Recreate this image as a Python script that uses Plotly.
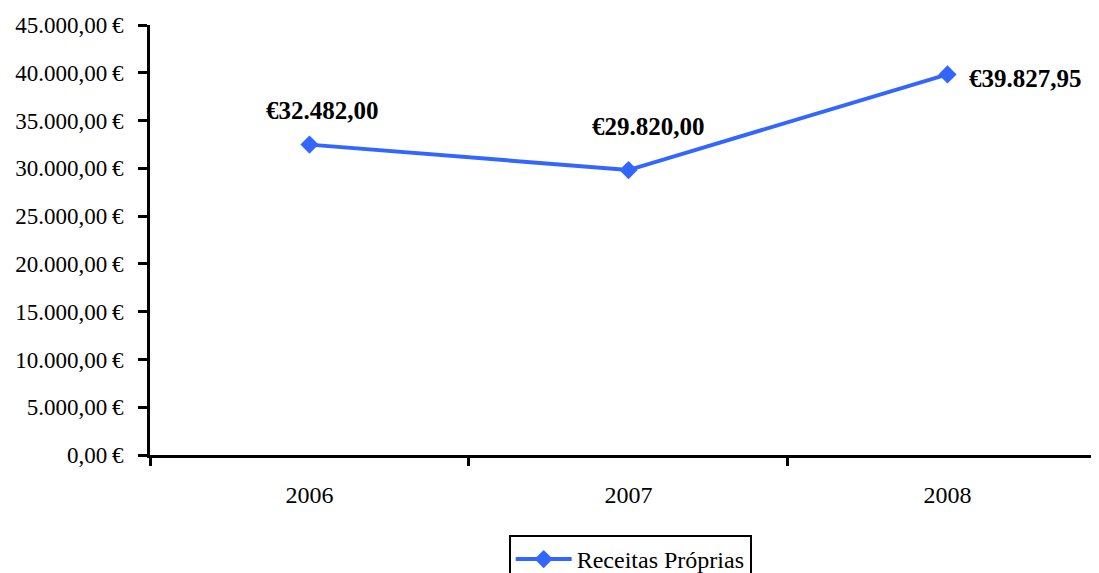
import plotly.graph_objects as go

years = ["2006", "2007", "2008"]
receitas = [32482.00, 29820.00, 39827.95]
labels = ["€32.482,00", "€29.820,00", "€39.827,95"]
y_ticks = [0, 5000, 10000, 15000, 20000, 25000, 30000, 35000, 40000, 45000]


def fmt_eur(v):
    s = f"{v:,.2f}".replace(",", "X").replace(".", ",").replace("X", ".")
    return s + "\u2009€"


y_ticktext = [fmt_eur(v) for v in y_ticks]

font_family = "Liberation Serif, serif"

fig = go.Figure()
fig.add_trace(go.Scatter(
    x=years, y=receitas, mode="lines+markers", name="Receitas Próprias",
    line=dict(color="#3366FF", width=4),
    marker=dict(symbol="diamond", size=14, color="#3366FF"),
))

shifts = [(13, 34, "center"), (20, 44, "center"), (20, -4, "left")]
for i, (v, t, (xs, ys, xa)) in enumerate(zip(receitas, labels, shifts)):
    fig.add_annotation(x=i, y=v, xref="x", yref="y", text="<b>" + t + "</b>",
                       showarrow=False, xshift=xs, yshift=ys, xanchor=xa,
                       font=dict(size=25, color="black", family=font_family))

fig.update_layout(
    width=1091, height=565,
    margin=dict(l=142, r=0, t=17, b=118, autoexpand=False),
    paper_bgcolor="white", plot_bgcolor="white",
    font=dict(family=font_family, size=23, color="black"),
    showlegend=True,
    legend=dict(orientation="h", x=0.506, xanchor="center", y=-0.186, yanchor="top",
                bordercolor="black", borderwidth=2, itemwidth=56,
                font=dict(size=24, family=font_family)),
    xaxis=dict(type="category", range=[-0.5, 2.475], showline=True, linecolor="black",
               linewidth=3, ticks="outside", tickson="boundaries", ticklen=8,
               tickwidth=3, tickcolor="black", showgrid=False, zeroline=False,
               ticklabelstandoff=16, tickfont=dict(size=24, family=font_family)),
    yaxis=dict(range=[0, 45000], tickvals=y_ticks, ticktext=y_ticktext,
               showline=True, linecolor="black", linewidth=3, ticks="outside",
               ticklen=9, tickwidth=3, tickcolor="black", showgrid=False,
               zeroline=False, ticklabelstandoff=10,
               tickfont=dict(size=23, family=font_family)),
)

fig.write_html("out.html")
